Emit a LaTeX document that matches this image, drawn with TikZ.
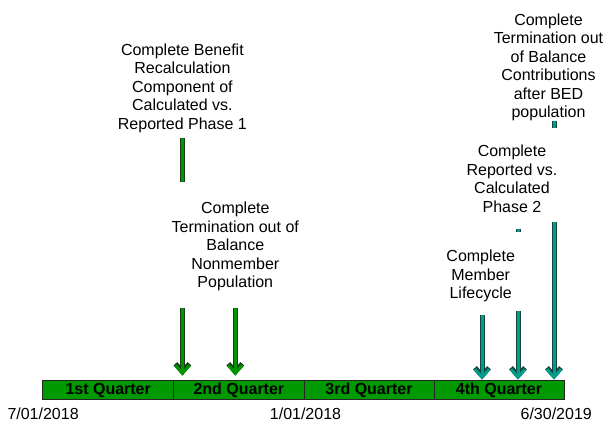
\documentclass[tikz,border=0pt]{standalone}
\usepackage{fontspec}
\setmainfont{Liberation Sans}
\usetikzlibrary{arrows.meta}
\definecolor{qgreen}{RGB}{0,153,0}
\definecolor{agreen}{RGB}{0,150,0}
\definecolor{ateal}{RGB}{0,158,138}
\definecolor{dgreen}{RGB}{25,60,25}
\definecolor{dteal}{RGB}{20,70,62}
\pgfdeclarelayer{barlayer}
\pgfdeclarelayer{arrowlayer}
\pgfsetlayers{barlayer,arrowlayer,main}
\tikzset{
  lbl/.style={font=\fontsize{16}{18.5}\selectfont, align=center, inner sep=0pt, anchor=north},
  cover/.style={fill=white},
  datelbl/.style={font=\fontsize{16}{18.5}\selectfont, inner sep=0pt},
  quarter/.style={draw=black!85, fill=qgreen, line width=0.9pt, minimum height=19pt, inner sep=0pt,
    text height=11.5pt, text depth=1pt, font=\fontsize{16}{18}\selectfont\bfseries},
  barbtip/.style={-{Straight Barb[length=8pt 0 0,width=14pt 0 0]}},
  garrow/.style={draw=agreen, line width=3pt, barbtip,
    preaction={draw=dgreen, line width=5pt, barbtip}},
  tarrow/.style={draw=ateal, line width=3pt, barbtip,
    preaction={draw=dteal, line width=5pt, barbtip}},
}
\begin{document}
\begin{tikzpicture}[x=1pt,y=-1pt]
\useasboundingbox (0,0) rectangle (612,423);

% quarter bar
\begin{pgfonlayer}{barlayer}
\node[quarter, minimum width=131pt] (q1) at (108.2,389.5) {1st Quarter};
\node[quarter, minimum width=130.3pt] (q2) at (238.85,389.5) {2nd Quarter};
\node[quarter, minimum width=130pt] (q3) at (369,389.5) {3rd Quarter};
\node[quarter, minimum width=130pt] (q4) at (499,389.5) {4th Quarter};
\end{pgfonlayer}

% texts
\node[lbl] (b1) at (182.4,40) {\rule{0pt}{14.8pt}Complete Benefit\\Recalculation\\Component of\\Calculated vs.\\Reported Phase 1\rule[-9.2pt]{0pt}{9.2pt}};
\node[lbl, cover, minimum width=130pt] (b2) at (235.3,182) {\rule{0pt}{31.5pt}Complete\\Termination out of\\Balance\\Nonmember\\Population\rule[-20.5pt]{0pt}{20.5pt}};
\node[lbl] (b3) at (548.5,10) {\rule{0pt}{14.8pt}Complete\\Termination out\\of Balance\\Contributions\\after BED\\population\rule[-3.4pt]{0pt}{3.4pt}};
\node[lbl, cover, minimum width=94pt] (b4) at (512,128) {\rule{0pt}{28.3pt}Complete\\Reported vs.\\Calculated\\Phase 2\rule[-10.2pt]{0pt}{10.2pt}};
\node[lbl, cover, minimum width=84pt] (b5) at (480.7,232) {\rule{0pt}{29.5pt}Complete\\Member\\Lifecycle\rule[-12.5pt]{0pt}{12.5pt}};

% dates
\node[datelbl, anchor=base west] (d1) at (7.3,419.5) {7/01/2018};
\node[datelbl, anchor=base] (d2) at (305.5,419.5) {1/01/2018};
\node[datelbl, anchor=base east] (d3) at (592,419.5) {6/30/2019};

% arrow start coordinates
\coordinate (t1) at (482,315);
\coordinate (t2) at (518,229);
\coordinate (t3) at (554,0);

\begin{pgfonlayer}{arrowlayer}
\draw[garrow, shorten >=4pt] (b1.south) -- (b1.south |- q2.north);
\draw[garrow, shorten >=4pt] (b2.south) -- (b2.south |- q2.north);
\draw[tarrow] (t1) -- (t1 |- q4.north);
\draw[tarrow] (t2) -- (t2 |- q4.north);
\draw[tarrow] (b3.south -| t3) -- (t3 |- q4.north);
\end{pgfonlayer}
\end{tikzpicture}
\end{document}
